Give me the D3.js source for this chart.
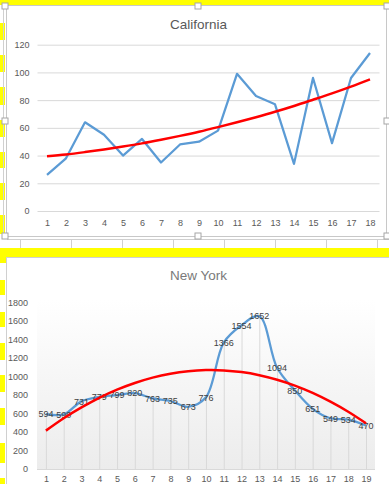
<!DOCTYPE html>
<html><head><meta charset="utf-8">
<script src="https://cdn.jsdelivr.net/npm/d3@7"></script>
<style>
html,body{margin:0;padding:0;background:#fff;}
svg{display:block;font-family:"Liberation Sans",Arial,sans-serif;}
</style></head>
<body>
<svg id="c" width="389" height="484"></svg>
<script>
// ---------- data ----------
const caCategories = d3.range(1, 19);
const caValues = [26, 38, 64, 55, 40, 52, 35, 48, 50, 58, 99, 83, 77, 34, 96, 49, 96, 114];
const caTrend = [39.5, 40.8, 42.5, 44.4, 46.5, 48.8, 51.4, 54.2, 57.2, 60.5, 64.0, 67.7, 71.6, 75.8, 80.3, 84.9, 89.8, 95.0];
const caTicks = [0, 20, 40, 60, 80, 100, 120];

const nyCategories = d3.range(1, 20);
const nyValues = [594, 590, 731, 779, 799, 820, 763, 735, 673, 776, 1366, 1554, 1652, 1094, 850, 651, 549, 534, 470];
const nyTrend = [415, 549, 666, 770, 858, 930, 988, 1030, 1057, 1069, 1066, 1048, 1014, 965, 902, 823, 728, 619, 494];
const nyTicks = [0, 200, 400, 600, 800, 1000, 1200, 1400, 1600, 1800];

const svg = d3.select("#c");
const YEL = "#ffff00";
const fmt = d3.format("d");

// ---------- spreadsheet background ----------
svg.append("rect").attr("x",0).attr("y",0).attr("width",389).attr("height",5).attr("fill",YEL);
const leftBands = [[23,17],[55,17],[87,18],[120,17],[152,16],[183,17],[215,19],[248,15],[280,15],[312,15],[343,17],[375,17],[408,17],[443,20],[478,6]];
leftBands.forEach(b=>svg.append("rect").attr("x",0).attr("y",b[0]).attr("width",5).attr("height",b[1]).attr("fill",YEL));
svg.append("rect").attr("x",0).attr("y",248).attr("width",389).attr("height",9.5).attr("fill",YEL);
// cell grid below chart 1
svg.append("line").attr("x1",7).attr("x2",389).attr("y1",239.5).attr("y2",239.5).attr("stroke","#d0d0d0");
[20,71,122,173,224,275,326,377].forEach(x=>svg.append("line").attr("x1",x+.5).attr("x2",x+.5).attr("y1",239).attr("y2",248).attr("stroke","#d0d0d0"));

// ---------- chart 1 frame ----------
svg.append("rect").attr("x",6.5).attr("y",5.5).attr("width",380).attr("height",231).attr("fill","#fff").attr("stroke","#c8c8c8");
svg.append("line").attr("x1",3.5).attr("x2",3.5).attr("y1",5).attr("y2",237).attr("stroke","#d0d0d0");
[[5,6],[198,6],[387,6],[5,121],[387,121],[5,236],[198,236],[387,236]].forEach(p=>
  svg.append("rect").attr("x",p[0]-3).attr("y",p[1]-3).attr("width",6).attr("height",6).attr("fill","#fff").attr("stroke","#a6a6a6"));

// ---------- chart 1 ----------
const g1 = svg.append("g");
const x1 = d3.scalePoint().domain(caCategories).range([47, 370]);
const y1 = d3.scaleLinear().domain([0, 120]).range([211, 44.7]);
g1.append("text").attr("x",198.5).attr("y",28.5).attr("text-anchor","middle")
  .attr("font-size",13.5).attr("fill","#595959").text("California");
const ya1 = g1.append("g").attr("transform","translate(37.5,0)")
  .call(d3.axisLeft(y1).tickValues(caTicks).tickFormat(fmt).tickSize(-342).tickPadding(8));
ya1.select(".domain").remove();
ya1.selectAll(".tick line").attr("stroke","#d9d9d9");
ya1.selectAll(".tick text").attr("font-size",9).attr("fill","#595959").attr("font-family","Liberation Sans, Arial");
const xa1 = g1.append("g").attr("transform","translate(0,211)")
  .call(d3.axisBottom(x1).tickSize(0).tickPadding(9));
xa1.select(".domain").remove();
xa1.selectAll(".tick text").attr("font-size",9).attr("fill","#595959").attr("font-family","Liberation Sans, Arial");
g1.append("path").datum(caValues).attr("fill","none").attr("stroke","#5b9bd5").attr("stroke-width",2.25)
  .attr("stroke-linejoin","round")
  .attr("d", d3.line().x((d,i)=>x1(caCategories[i])).y(d=>y1(d)));
g1.append("path").datum(caTrend).attr("fill","none").attr("stroke","#ff0000").attr("stroke-width",2.5)
  .attr("d", d3.line().x((d,i)=>x1(caCategories[i])).y(d=>y1(d)).curve(d3.curveCatmullRom));

// ---------- chart 2 frame ----------
svg.append("rect").attr("x",6.5).attr("y",257.5).attr("width",390).attr("height",240).attr("fill","#fff").attr("stroke","#d0d0d0");
leftBands.filter(b=>b[0]>=248).forEach(b=>svg.append("rect").attr("x",0).attr("y",b[0]).attr("width",5).attr("height",b[1]).attr("fill",YEL));
svg.append("rect").attr("x",0).attr("y",257).attr("width",6).attr("height",6).attr("fill",YEL);

// ---------- chart 2 ----------
const g2 = svg.append("g");
const x2 = d3.scalePoint().domain(nyCategories).range([45.9, 366]);
const y2 = d3.scaleLinear().domain([0, 1800]).range([469, 302.5]);
const defs = svg.append("defs");
const grad = defs.append("linearGradient").attr("id","pg").attr("x1",0).attr("x2",0).attr("y1",0).attr("y2",1);
grad.append("stop").attr("offset","0%").attr("stop-color","#ffffff");
grad.append("stop").attr("offset","100%").attr("stop-color","#ececec");
g2.append("rect").attr("x",37).attr("y",300).attr("width",338).attr("height",169).attr("fill","url(#pg)");
g2.append("text").attr("x",198.5).attr("y",280).attr("text-anchor","middle")
  .attr("font-size",13.5).attr("fill","#7a7a7a").text("New York");
const ya2 = g2.append("g").attr("transform","translate(37,0)")
  .call(d3.axisLeft(y2).tickValues(nyTicks).tickFormat(fmt).tickSize(0).tickPadding(9));
ya2.select(".domain").remove();
ya2.selectAll(".tick text").attr("font-size",9).attr("fill","#595959").attr("font-family","Liberation Sans, Arial");
const xa2 = g2.append("g").attr("transform","translate(0,469)")
  .call(d3.axisBottom(x2).tickSize(0).tickPadding(7));
xa2.select(".domain").remove();
xa2.selectAll(".tick text").attr("font-size",9).attr("fill","#595959").attr("font-family","Liberation Sans, Arial");
g2.append("line").attr("x1",37).attr("x2",375).attr("y1",469.5).attr("y2",469.5).attr("stroke","#d9d9d9");
// drop lines
g2.selectAll("line.drop").data(nyValues).enter().append("line").attr("class","drop")
  .attr("x1",(d,i)=>x2(nyCategories[i])+.5).attr("x2",(d,i)=>x2(nyCategories[i])+.5)
  .attr("y1",d=>y2(d)).attr("y2",y2(0)).attr("stroke","#d9d9d9");
g2.append("path").datum(nyValues).attr("fill","none").attr("stroke","#5b9bd5").attr("stroke-width",2.25)
  .attr("d", d3.line().x((d,i)=>x2(nyCategories[i])).y(d=>y2(d)).curve(d3.curveCatmullRom));
g2.selectAll("text.lbl").data(nyValues).enter().append("text").attr("class","lbl")
  .attr("x",(d,i)=>x2(nyCategories[i])).attr("y",d=>y2(d)+3.3).attr("text-anchor","middle")
  .attr("font-size",9).attr("fill","#404040").text(d=>d);
g2.append("path").datum(nyTrend).attr("fill","none").attr("stroke","#ff0000").attr("stroke-width",2.5)
  .attr("d", d3.line().x((d,i)=>x2(nyCategories[i])).y(d=>y2(d)).curve(d3.curveCatmullRom));
</script>
</body></html>
